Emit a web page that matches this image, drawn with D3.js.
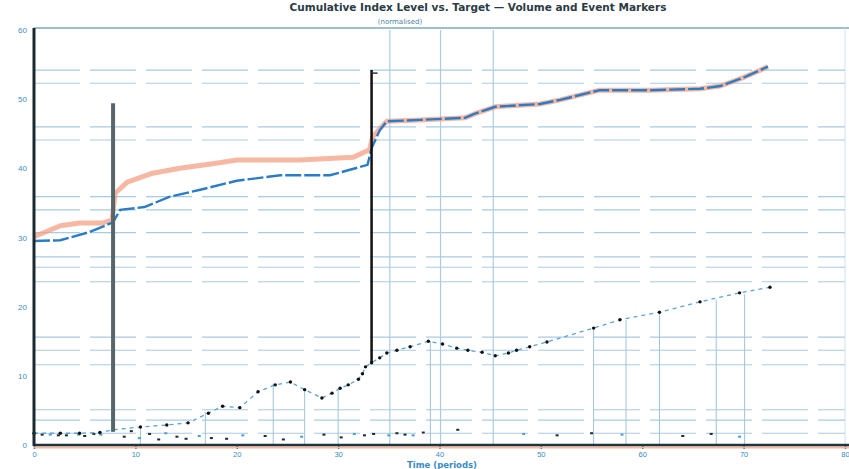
<!DOCTYPE html>
<html>
<head>
<meta charset="utf-8">
<script src="https://cdn.jsdelivr.net/npm/d3@7"></script>
<style>
  html, body { margin: 0; padding: 0; background: #fff; }
  svg { display: block; font-family: "DejaVu Sans", sans-serif; }
</style>
</head>
<body>
<svg id="chart" width="849" height="469"></svg>
<script>
// ---- data ----
const xTicks = [0, 10, 20, 30, 40, 50, 60, 70, 80];
const yTicks = [0, 10, 20, 30, 40, 50, 60];

// upper series (index level)
const levelX = [0, 2.6, 5.5, 7.8, 8.5, 10.9, 13.4, 16.4, 20.0, 24.3, 29.2, 32.9, 33.3, 34.1, 34.8, 38.1, 42.5, 43.5, 45.5, 49.9, 51.9, 55.8, 60.8, 65.7, 67.7, 70.1, 72.4];
const levelY = [29.5, 29.6, 30.8, 32.2, 34.0, 34.4, 35.9, 36.9, 38.2, 39.0, 39.0, 40.5, 42.9, 45.5, 46.8, 47.0, 47.3, 47.9, 48.9, 49.3, 49.9, 51.3, 51.3, 51.5, 51.9, 53.2, 54.7];

// upper series (target level)
const targetX = [0, 2.6, 4.5, 6.8, 7.7, 8.0, 9.2, 11.7, 14.4, 18.3, 20.0, 26.2, 31.5, 33.1, 33.4, 34.1, 34.8, 38.1, 42.5, 43.5, 45.5, 49.9, 51.9, 55.8, 60.8, 65.7, 67.7, 70.1, 72.4];
const targetY = [30.1, 31.7, 32.1, 32.1, 32.5, 36.4, 38.0, 39.3, 40.0, 40.8, 41.2, 41.2, 41.6, 42.7, 44.5, 45.7, 46.8, 47.0, 47.3, 47.9, 48.9, 49.3, 49.9, 51.3, 51.3, 51.5, 51.9, 53.2, 54.7];

// lower series (volume)
const volX = [0, 2.6, 4.5, 6.5, 7.8, 10.5, 13.1, 15.2, 17.2, 18.6, 20.3, 22.1, 23.8, 25.3, 26.7, 28.4, 29.4, 30.2, 31.0, 32.0, 32.4, 32.7, 33.3, 34.1, 34.8, 35.8, 37.1, 38.9, 40.3, 41.7, 42.8, 44.2, 45.5, 46.8, 47.6, 48.9, 50.6, 55.2, 57.8, 61.7, 65.7, 69.6, 72.6];
const volY = [1.7, 1.7, 1.7, 1.8, 2.2, 2.6, 2.9, 3.2, 4.6, 5.6, 5.4, 7.7, 8.7, 9.1, 8.0, 6.8, 7.5, 8.2, 8.7, 9.5, 10.3, 11.3, 11.9, 12.6, 13.3, 13.7, 14.2, 15.0, 14.6, 14.0, 13.7, 13.4, 12.9, 13.3, 13.7, 14.2, 14.9, 16.9, 18.1, 19.2, 20.7, 22.0, 22.8];

// drop lines from volume points to the baseline
const dropX = [10.5, 16.9, 23.6, 26.7, 30.0, 39.1, 55.2, 58.4, 61.7, 67.3, 70.1];
const dropTop = [2.6, 4.8, 8.9, 8.0, 8.3, 15.0, 16.9, 18.1, 19.2, 21.0, 21.8];

// full-height reference lines
const refX = [35.1, 40.1, 45.3];

// horizontal guide levels
const guideY = [54.2, 52.3, 46.0, 44.1, 35.9, 34.0, 30.7, 27.2, 25.7, 23.6, 15.6, 13.7, 11.6, 5.1, 3.6, 1.7];

// event markers (vertical bars)
const eventX = [7.8, 33.3];
const eventTop = [49.4, 54.2];
const eventBottom = [1.9, 12.0];

// small marks along the baseline
const rugX = [0.8, 1.6, 2.4, 3.2, 4.4, 5.0, 5.9, 6.6, 8.9, 9.6, 10.4, 11.4, 12.3, 13.0, 14.1, 15.0, 16.3, 17.5, 19.0, 20.6, 22.8, 24.6, 26.4, 28.6, 30.3, 31.6, 32.6, 33.5, 35.0, 35.8, 36.6, 37.4, 38.4, 41.8, 48.3, 51.6, 55.0, 58.0, 64.0, 66.8, 69.6];
const rugY = [1.5, 1.5, 1.4, 1.4, 1.5, 1.3, 1.6, 1.5, 1.2, 2.0, 1.0, 1.6, 0.8, 1.7, 1.2, 0.9, 1.3, 1.0, 0.9, 1.4, 1.3, 0.8, 1.2, 1.5, 1.1, 1.6, 1.4, 1.6, 1.4, 1.7, 1.5, 1.4, 1.8, 2.2, 1.6, 1.4, 1.7, 1.5, 1.3, 1.6, 1.2];

// ---- layout ----
const svg = d3.select("#chart");
const plotLeft = 34, plotRight = 845, plotTop = 30, plotBottom = 445;

const x = d3.scaleLinear().domain([0, 80]).range([plotLeft, plotRight]);
const y = d3.scaleLinear().domain([0, 60]).range([plotBottom, plotTop]);

// title
svg.append("text").attr("x", 478).attr("y", 11).attr("text-anchor", "middle")
  .attr("font-size", 10.5).attr("font-weight", "bold").attr("fill", "#2b3a44")
  .text("Cumulative Index Level vs. Target — Volume and Event Markers");
svg.append("text").attr("x", 400).attr("y", 24).attr("text-anchor", "middle")
  .attr("font-size", 7).attr("fill", "#4a7fa6")
  .text("(normalised)");

// frame top / right
svg.append("line").attr("x1", plotLeft).attr("x2", 849).attr("y1", plotTop - 2).attr("y2", plotTop - 2)
  .attr("stroke", "#7fa7bd").attr("stroke-width", 1.5);
svg.append("line").attr("x1", plotRight).attr("x2", plotRight).attr("y1", plotTop - 2).attr("y2", plotBottom)
  .attr("stroke", "#cfe1ee").attr("stroke-width", 1);

// horizontal guides
svg.append("g").selectAll("line").data(guideY).join("line")
  .attr("x1", plotLeft).attr("x2", plotRight)
  .attr("y1", d => y(d)).attr("y2", d => y(d))
  .attr("stroke", "#a9cce3").attr("stroke-width", 1.2)
  .attr("stroke-dasharray", "46,10");

// vertical reference lines
svg.append("g").selectAll("line").data(refX).join("line")
  .attr("x1", d => x(d)).attr("x2", d => x(d))
  .attr("y1", plotTop).attr("y2", plotBottom)
  .attr("stroke", "#a9cce3").attr("stroke-width", 1.2);

// drop lines
svg.append("g").selectAll("line").data(dropX).join("line")
  .attr("x1", d => x(d)).attr("x2", d => x(d))
  .attr("y1", (d, i) => y(dropTop[i])).attr("y2", plotBottom)
  .attr("stroke", "#9fc3da").attr("stroke-width", 1);

// baseline marks
svg.append("g").selectAll("rect").data(rugX).join("rect")
  .attr("x", d => x(d) - 1.5).attr("y", (d, i) => y(rugY[i]) - 1)
  .attr("width", 3).attr("height", 2)
  .attr("fill", (d, i) => i % 3 === 1 ? "#4d9fd0" : "#1d2a30");

// target line (soft, drawn first)
const line = d3.line().x(d => x(d[0])).y(d => y(d[1]));
svg.append("path")
  .datum(d3.zip(targetX, targetY))
  .attr("d", line).attr("fill", "none")
  .attr("stroke", "#f39a7c").attr("stroke-opacity", 0.7)
  .attr("stroke-width", 5).attr("stroke-linejoin", "round");

// level line
svg.append("path")
  .datum(d3.zip(levelX, levelY))
  .attr("d", line).attr("fill", "none")
  .attr("stroke", "#2b7cc6").attr("stroke-width", 2.4)
  .attr("stroke-dasharray", "16,3");

// volume connector + points
svg.append("path")
  .datum(d3.zip(volX, volY))
  .attr("d", line).attr("fill", "none")
  .attr("stroke", "#5aa5d4").attr("stroke-width", 1.3)
  .attr("stroke-dasharray", "4,4");
svg.append("g").selectAll("circle").data(volX).join("circle")
  .attr("cx", d => x(d)).attr("cy", (d, i) => y(volY[i]))
  .attr("r", 1.7).attr("fill", "#111");

// event bars
svg.append("g").selectAll("line").data(eventX).join("line")
  .attr("x1", d => x(d)).attr("x2", d => x(d))
  .attr("y1", (d, i) => y(eventTop[i])).attr("y2", (d, i) => y(eventBottom[i]))
  .attr("stroke", (d, i) => i === 0 ? "#56666a" : "#111")
  .attr("stroke-width", (d, i) => i === 0 ? 4 : 2.5);
svg.append("line")
  .attr("x1", x(eventX[1])).attr("x2", x(eventX[1]) + 6)
  .attr("y1", y(eventTop[1]) + 3).attr("y2", y(eventTop[1]) + 3)
  .attr("stroke", "#333").attr("stroke-width", 1.5);

// axes
const xAxis = d3.axisBottom(x).tickValues(xTicks).tickSize(4).tickPadding(3);
const gx = svg.append("g").attr("transform", `translate(0,${plotBottom})`).call(xAxis);
gx.select(".domain").remove();
gx.selectAll(".tick line").attr("stroke", "#1e3540").attr("stroke-width", 1.5);
gx.selectAll(".tick text").attr("fill", "#3b8cc2").attr("font-size", 7.5);
svg.append("line").attr("x1", plotLeft).attr("x2", 849).attr("y1", plotBottom + 2.5).attr("y2", plotBottom + 2.5)
  .attr("stroke", "#f6b9a0").attr("stroke-width", 2);
svg.append("line").attr("x1", plotLeft).attr("x2", 849).attr("y1", plotBottom).attr("y2", plotBottom)
  .attr("stroke", "#1e3540").attr("stroke-width", 2.5);

const yAxis = d3.axisLeft(y).tickValues(yTicks).tickSize(0).tickPadding(7);
const gy = svg.append("g").attr("transform", `translate(${plotLeft},0)`).call(yAxis);
gy.select(".domain").remove();
gy.selectAll(".tick text").attr("fill", "#3b8cc2").attr("font-size", 8);
svg.append("line").attr("x1", plotLeft).attr("x2", plotLeft).attr("y1", plotTop - 2).attr("y2", plotBottom + 1)
  .attr("stroke", "#1a2a30").attr("stroke-width", 3);

// x-axis title
svg.append("text").attr("x", 442).attr("y", 468).attr("text-anchor", "middle")
  .attr("font-size", 8.5).attr("font-weight", "bold").attr("fill", "#3b8cc2")
  .text("Time (periods)");
</script>
</body>
</html>
